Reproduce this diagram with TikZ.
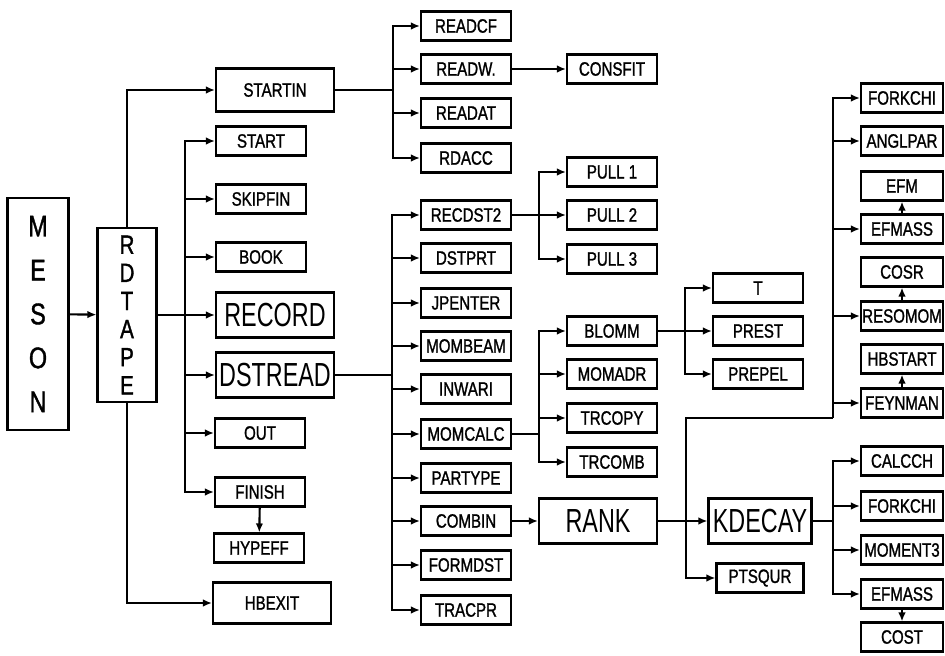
\documentclass[tikz,border=0pt]{standalone}
\usepackage{fontspec}
\newfontfamily\lblfont[FakeStretch=0.78, FakeBold=1.2]{Liberation Sans}
\newfontfamily\bigfont[FakeStretch=0.7]{Liberation Sans}
\usetikzlibrary{arrows.meta}

\begin{document}
\begin{tikzpicture}[x=0.02cm, y=-0.02cm, line width=1.2pt,
  >={Latex[length=1.8mm,width=1.5mm]},
  blk/.style={draw, line width=1.2pt, inner sep=0pt, minimum width=1.8cm,
              minimum height=0.58cm, font=\lblfont\fontsize{11}{13}\selectfont},
  wide/.style={blk, minimum width=2.36cm, minimum height=0.86cm},
  big/.style={wide, minimum height=0.9cm, font=\bigfont\fontsize{19}{21}\selectfont},
  rblk/.style={blk, minimum width=1.64cm},
  ar/.style={->}]
  \useasboundingbox (0,0) rectangle (945,655);

  % main program and the tape reader
  \node[draw, minimum width=1.22cm, minimum height=4.64cm, align=center,
        font=\lblfont\fontsize{17}{25}\selectfont] (meson) at (38,314) {M\\E\\S\\O\\N};
  \node[draw, minimum width=1.18cm, minimum height=3.48cm, align=center,
        font=\lblfont\fontsize{15}{16}\selectfont] (rdtape) at (127,315) {R\\D\\T\\A\\P\\E};

  % routines called by RDTAPE
  \node[wide] (startin) at (275,90) {STARTIN};
  \node[blk] (start) at (261,141) {START};
  \node[blk] (skipfin) at (261,199) {SKIPFIN};
  \node[blk] (book) at (261,257) {BOOK};
  \node[big] (record) at (275,315) {RECORD};
  \node[big] (dstread) at (275,375) {DSTREAD};
  \node[blk] (out) at (260,433) {OUT};
  \node[blk] (finish) at (260,492) {FINISH};
  \node[blk] (hypeff) at (259,548) {HYPEFF};
  \node[wide, minimum height=0.82cm] (hbexit) at (272,603) {HBEXIT};

  % STARTIN branch
  \node[blk] (readcf) at (466,26) {READCF};
  \node[blk] (readw) at (466,69) {READW.};
  \node[blk] (readat) at (466,113) {READAT};
  \node[blk] (rdacc) at (466,158) {RDACC};
  \node[blk] (consfit) at (612,69) {CONSFIT};

  % DSTREAD branch
  \node[blk] (recdst) at (466,215) {RECDST2};
  \node[blk] (dstprt) at (466,258) {DSTPRT};
  \node[blk] (jpenter) at (466,303) {JPENTER};
  \node[blk] (mombeam) at (466,346) {MOMBEAM};
  \node[blk] (inwari) at (466,389) {INWARI};
  \node[blk] (momcalc) at (466,434) {MOMCALC};
  \node[blk] (partype) at (466,478) {PARTYPE};
  \node[blk] (combin) at (466,521) {COMBIN};
  \node[blk] (formdst) at (466,565) {FORMDST};
  \node[blk] (tracpr) at (466,610) {TRACPR};

  \node[blk] (pull1) at (612,172) {PULL 1};
  \node[blk] (pull2) at (612,215) {PULL 2};
  \node[blk] (pull3) at (612,259) {PULL 3};
  \node[blk] (blomm) at (612,331) {BLOMM};
  \node[blk] (momadr) at (612,374) {MOMADR};
  \node[blk] (trcopy) at (612,418) {TRCOPY};
  \node[blk] (trcomb) at (612,462) {TRCOMB};
  \node[blk] (t) at (758,288) {T};
  \node[blk] (prest) at (758,331) {PREST};
  \node[blk] (prepel) at (758,374) {PREPEL};

  % RANK and what it calls
  \node[big] (rank) at (598,521) {RANK};
  \node[big, minimum width=2.06cm] (kdecay) at (760,521) {KDECAY};
  \node[blk, minimum width=1.74cm] (ptsqur) at (760,578) {PTSQUR};

  \node[rblk] (forkchi) at (902,98) {FORKCHI};
  \node[rblk] (anglpar) at (902,141) {ANGLPAR};
  \node[rblk] (efm) at (902,186) {EFM};
  \node[rblk] (efmass) at (902,229) {EFMASS};
  \node[rblk] (cosr) at (902,272) {COSR};
  \node[rblk] (resomom) at (902,316) {RESOMOM};
  \node[rblk] (hbstart) at (902,359) {HBSTART};
  \node[rblk] (feynman) at (902,403) {FEYNMAN};

  \node[rblk] (calcch) at (902,461) {CALCCH};
  \node[rblk] (forkchib) at (902,506) {FORKCHI};
  \node[rblk] (moment3) at (902,550) {MOMENT3};
  \node[rblk] (efmassb) at (902,594) {EFMASS};
  \node[rblk] (cost) at (902,637) {COST};

  % bus junctions
  \coordinate (b0) at (185,315);
  \coordinate (b1) at (393,90);
  \coordinate (b2) at (392,375);
  \coordinate (b3) at (539,215);
  \coordinate (b4) at (539,434);
  \coordinate (b5) at (685,331);
  \coordinate (j1) at (686,521);
  \coordinate (b6) at (833,418);
  \coordinate (b7) at (833,521);

  % connectors
  \draw[ar] (meson) -- (rdtape);
  \draw[ar] (rdtape.north) |- (startin); \draw[ar] (rdtape.south) |- (hbexit);
  \draw[ar] (rdtape) -- (record);
  \draw[ar] (b0) |- (start); \draw[ar] (b0) |- (skipfin); \draw[ar] (b0) |- (book);
  \draw[ar] (b0) |- (dstread); \draw[ar] (b0) |- (out); \draw[ar] (b0) |- (finish);
  \draw[ar] (finish) -- (hypeff);

  \draw (startin) -- (b1);
  \draw[ar] (b1) |- (readcf); \draw[ar] (b1) |- (readw); \draw[ar] (b1) |- (readat); \draw[ar] (b1) |- (rdacc);
  \draw[ar] (readw) -- (consfit);

  \draw (dstread) -- (b2);
  \draw[ar] (b2) |- (recdst); \draw[ar] (b2) |- (dstprt); \draw[ar] (b2) |- (jpenter);
  \draw[ar] (b2) |- (mombeam); \draw[ar] (b2) |- (inwari); \draw[ar] (b2) |- (momcalc);
  \draw[ar] (b2) |- (partype); \draw[ar] (b2) |- (combin); \draw[ar] (b2) |- (formdst);
  \draw[ar] (b2) |- (tracpr);

  \draw (recdst) -- (b3);
  \draw[ar] (b3) |- (pull1); \draw[ar] (b3) |- (pull2); \draw[ar] (b3) |- (pull3);
  \draw (momcalc) -- (b4);
  \draw[ar] (b4) |- (blomm); \draw[ar] (b4) |- (momadr); \draw[ar] (b4) |- (trcopy); \draw[ar] (b4) |- (trcomb);
  \draw (blomm) -- (b5);
  \draw[ar] (b5) |- (t); \draw[ar] (b5) |- (prest); \draw[ar] (b5) |- (prepel);

  \draw[ar] (combin) -- (rank); \draw[ar] (rank) -- (kdecay);
  \draw[ar] (j1) |- (ptsqur); \draw (j1) |- (b6);
  \draw[ar] (b6) |- (forkchi); \draw[ar] (b6) |- (anglpar); \draw[ar] (b6) |- (efmass);
  \draw[ar] (b6) |- (resomom); \draw[ar] (b6) |- (feynman);
  \draw[ar] (efmass) -- (efm); \draw[ar] (resomom) -- (cosr); \draw[ar] (feynman) -- (hbstart);

  \draw (kdecay) -- (b7);
  \draw[ar] (b7) |- (calcch); \draw[ar] (b7) |- (forkchib); \draw[ar] (b7) |- (moment3); \draw[ar] (b7) |- (efmassb);
  \draw[ar] (efmassb) -- (cost);
\end{tikzpicture}
\end{document}
